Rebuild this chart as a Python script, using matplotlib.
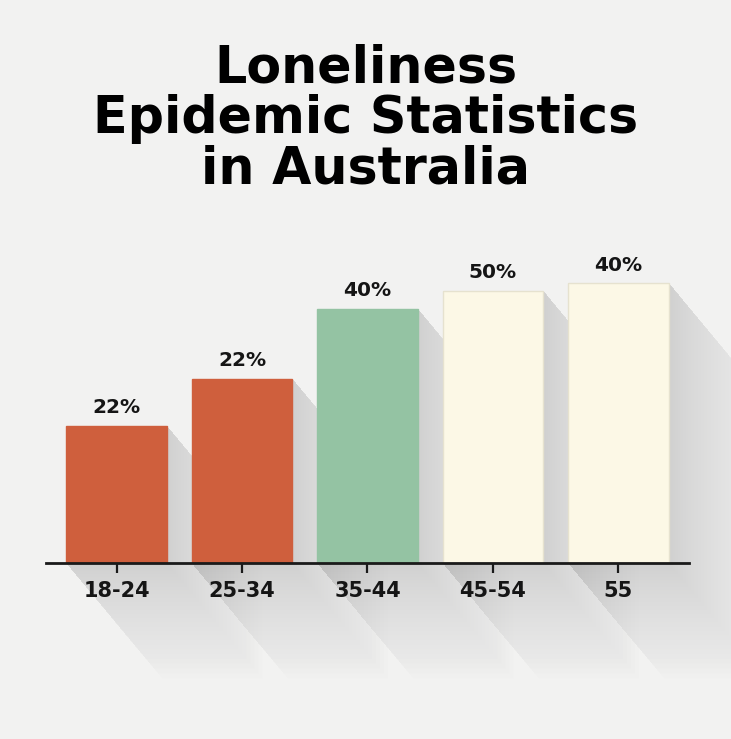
import matplotlib.pyplot as plt
from matplotlib.patches import Polygon

# data
age_groups = ['18-24', '25-34', '35-44', '45-54', '55']
bar_heights = [24.5, 32.9, 45.4, 48.6, 50.0]
value_labels = ['22%', '22%', '40%', '50%', '40%']
bar_colors = ['#cf5f3d', '#cf5f3d', '#94c3a3', '#fcf8e6', '#fcf8e6']
edge_colors = ['#cf5f3d', '#cf5f3d', '#94c3a3', '#e6e2cf', '#e6e2cf']

title = 'Loneliness\nEpidemic Statistics\nin Australia'

W, H = 731, 739
fig = plt.figure(figsize=(W / 100, H / 100), dpi=100)
fig.patch.set_facecolor('#f2f2f1')

# axes: baseline at y=563px, line from x=46 to x=689
ax = fig.add_axes([46 / W, (H - 563) / H, 643 / W, 330 / H])
ax.set_facecolor('none')
x = list(range(len(age_groups)))
ax.set_xlim(-0.562, 4.562)
ax.set_ylim(0, 330 / 5.6)

bar_w = 0.80
ax.bar(x, bar_heights, width=bar_w, color=bar_colors, edgecolor=edge_colors,
       linewidth=1, zorder=3)

# long diagonal shadows, built from the bar geometry
px_x = 1 / 125.5   # data units per pixel, x
px_y = 1 / 5.6     # data units per pixel, y
n_layers = 30
shadow_len = 150
for xi, h in zip(x, bar_heights):
    x0, x1 = xi - bar_w / 2, xi + bar_w / 2
    for k in range(n_layers):
        t = shadow_len * ((k + 1) / n_layers) ** 1.3
        dx = t * 0.64 * px_x
        dy = t * 0.77 * px_y
        pts = [(x0, h), (x1, h), (x1 + dx, h - dy), (x1 + dx, -dy),
               (x0 + dx, -dy), (x0, 0)]
        ax.add_patch(Polygon(pts, closed=True, facecolor='#6a6a6a',
                             edgecolor='none', alpha=0.008, zorder=1,
                             clip_on=False))

# value labels above the bars
for xi, h, lab in zip(x, bar_heights, value_labels):
    ax.text(xi, h + 1.5, lab, ha='center', va='bottom', fontsize=14.5,
            fontweight='bold', color='#151515', zorder=4)

for s in ['top', 'right', 'left']:
    ax.spines[s].set_visible(False)
ax.spines['bottom'].set_linewidth(2)
ax.spines['bottom'].set_color('#1a1a1a')
ax.spines['bottom'].set_zorder(5)
ax.set_yticks([])
ax.set_xticks(x)
ax.set_xticklabels(age_groups, fontsize=15, fontweight='bold', color='#151515')
ax.tick_params(axis='x', direction='out', length=7, width=1.6,
               color='#1a1a1a', pad=6)

fig.text(0.5, 1 - 119 / H, title, ha='center', va='center', fontsize=36.5,
         family='DejaVu Sans', fontweight='bold', color='black',
         linespacing=1.02)

fig.savefig('out.png', dpi=100, facecolor=fig.get_facecolor())
